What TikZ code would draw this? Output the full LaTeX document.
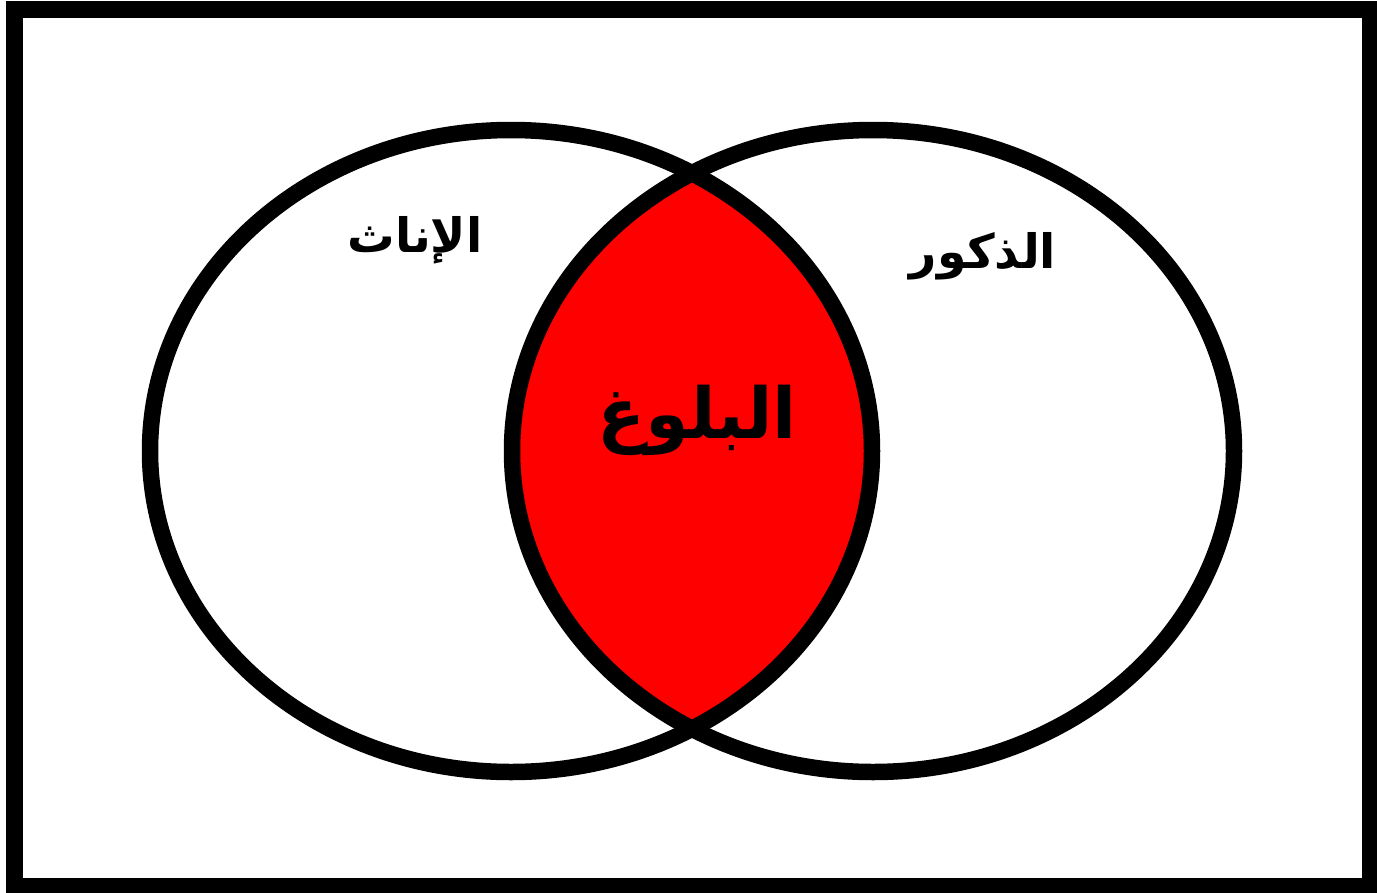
\documentclass[tikz,border=0pt]{standalone}
\usepackage{fontspec}
\usepackage{xcolor}
\usepackage{tikz}
\TeXXeTstate=1
\newfontfamily\arabicfont[Script=Arabic]{DejaVu Sans}
\definecolor{pubred}{HTML}{FF0000}

\begin{document}
\begin{tikzpicture}[x=0.02cm, y=-0.02cm,
    setline/.style={line width=0.33cm},
    setlabel/.style={font=\arabicfont\bfseries\fontsize{27}{32}\selectfont},
    biglabel/.style={font=\arabicfont\bfseries\fontsize{40}{48}\selectfont}]

    \useasboundingbox (0,0) rectangle (1377,893);

    % Outer frame
    \draw[line width=0.33cm] (14.5,9.5) rectangle (1370,886.5);

    % Intersection filled red
    \begin{scope}
        \clip (511,451) ellipse [x radius=361, y radius=321];
        \fill[pubred] (873,451) ellipse [x radius=361, y radius=321];
    \end{scope}

    % The two sets
    \draw[setline] (511,451) ellipse [x radius=361, y radius=321];
    \draw[setline] (873,451) ellipse [x radius=361, y radius=321];

    % Set labels
    \node[setlabel] (females) at (415,240) {\beginR الإناث\endR};
    \node[setlabel] (males) at (983,256) {\beginR الذكور\endR};
    \node[biglabel] (puberty) at (697,420) {\beginR البلوغ\endR};

\end{tikzpicture}
\end{document}
